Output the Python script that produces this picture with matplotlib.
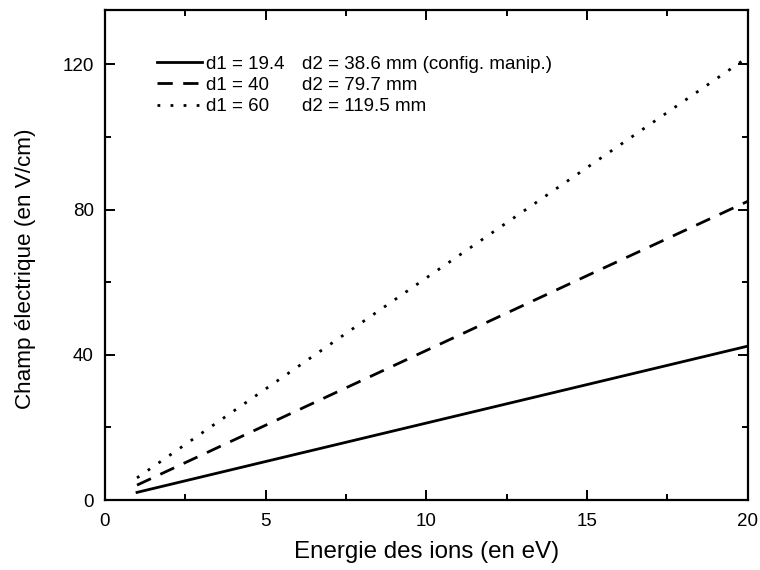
import matplotlib
matplotlib.use("Agg")
import matplotlib.pyplot as plt
from matplotlib.ticker import MultipleLocator

plt.rcParams['font.family'] = ['Liberation Sans', 'DejaVu Sans']

energy = [1, 5, 10, 15, 20]
field_19 = [2.1, 10.6, 21.2, 31.8, 42.4]
field_40 = [4.1, 20.6, 41.2, 61.8, 82.3]
field_60 = [6.1, 30.6, 61.2, 91.6, 122.0]
labels_d1 = ["d1 = 19.4", "d1 = 40", "d1 = 60"]
labels_d2 = ["d2 = 38.6 mm (config. manip.)", "d2 = 79.7 mm", "d2 = 119.5 mm"]
xticks = [0, 5, 10, 15, 20]
yticks = [0, 40, 80, 120]

fig = plt.figure(figsize=(7.6, 5.7), dpi=100)
ax = fig.add_axes([0.138, 0.1228, 0.846, 0.8597])

lw = 2.0
l1, = ax.plot(energy, field_19, color='black', lw=lw, linestyle='-')
l2, = ax.plot(energy, field_40, color='black', lw=lw, linestyle=(0, (5.5, 3.75)))
l3, = ax.plot(energy, field_60, color='black', lw=lw, linestyle=(0, (1, 3.7)))

ax.set_xlim(0, 20)
ax.set_ylim(0, 135)
ax.set_xticks(xticks)
ax.set_yticks(yticks)
ax.xaxis.set_minor_locator(MultipleLocator(2.5))
ax.yaxis.set_minor_locator(MultipleLocator(20))
ax.tick_params(which='both', direction='in', top=True, right=True, width=1.4)
ax.tick_params(which='major', length=7, labelsize=13.5)
ax.tick_params(axis='x', which='major', pad=9)
ax.tick_params(axis='y', which='major', pad=8)
ax.tick_params(which='minor', length=4)
for s in ax.spines.values():
    s.set_linewidth(1.6)

ax.set_xlabel("Energie des ions (en eV)", fontsize=17.4, labelpad=8)
ax.set_ylabel("Champ électrique (en V/cm)", fontsize=16.2)
ax.yaxis.set_label_coords(-0.107, 0.472)

leg = ax.legend([l1, l2, l3], labels_d1, loc='upper left',
                bbox_to_anchor=(0.081, 0.907), frameon=False, fontsize=13.5,
                handlelength=2.4, handletextpad=0.2, labelspacing=0.22,
                borderpad=0, borderaxespad=0)

fig.canvas.draw()
renderer = fig.canvas.get_renderer()
for t, lab in zip(leg.get_texts(), labels_d2):
    bb = t.get_window_extent(renderer)
    x0, y0 = fig.transFigure.inverted().transform((302, (bb.y0 + bb.y1) / 2))
    fig.text(x0, y0, lab, fontsize=13.5, va='center', ha='left')

fig.savefig("out.png", dpi=100)
